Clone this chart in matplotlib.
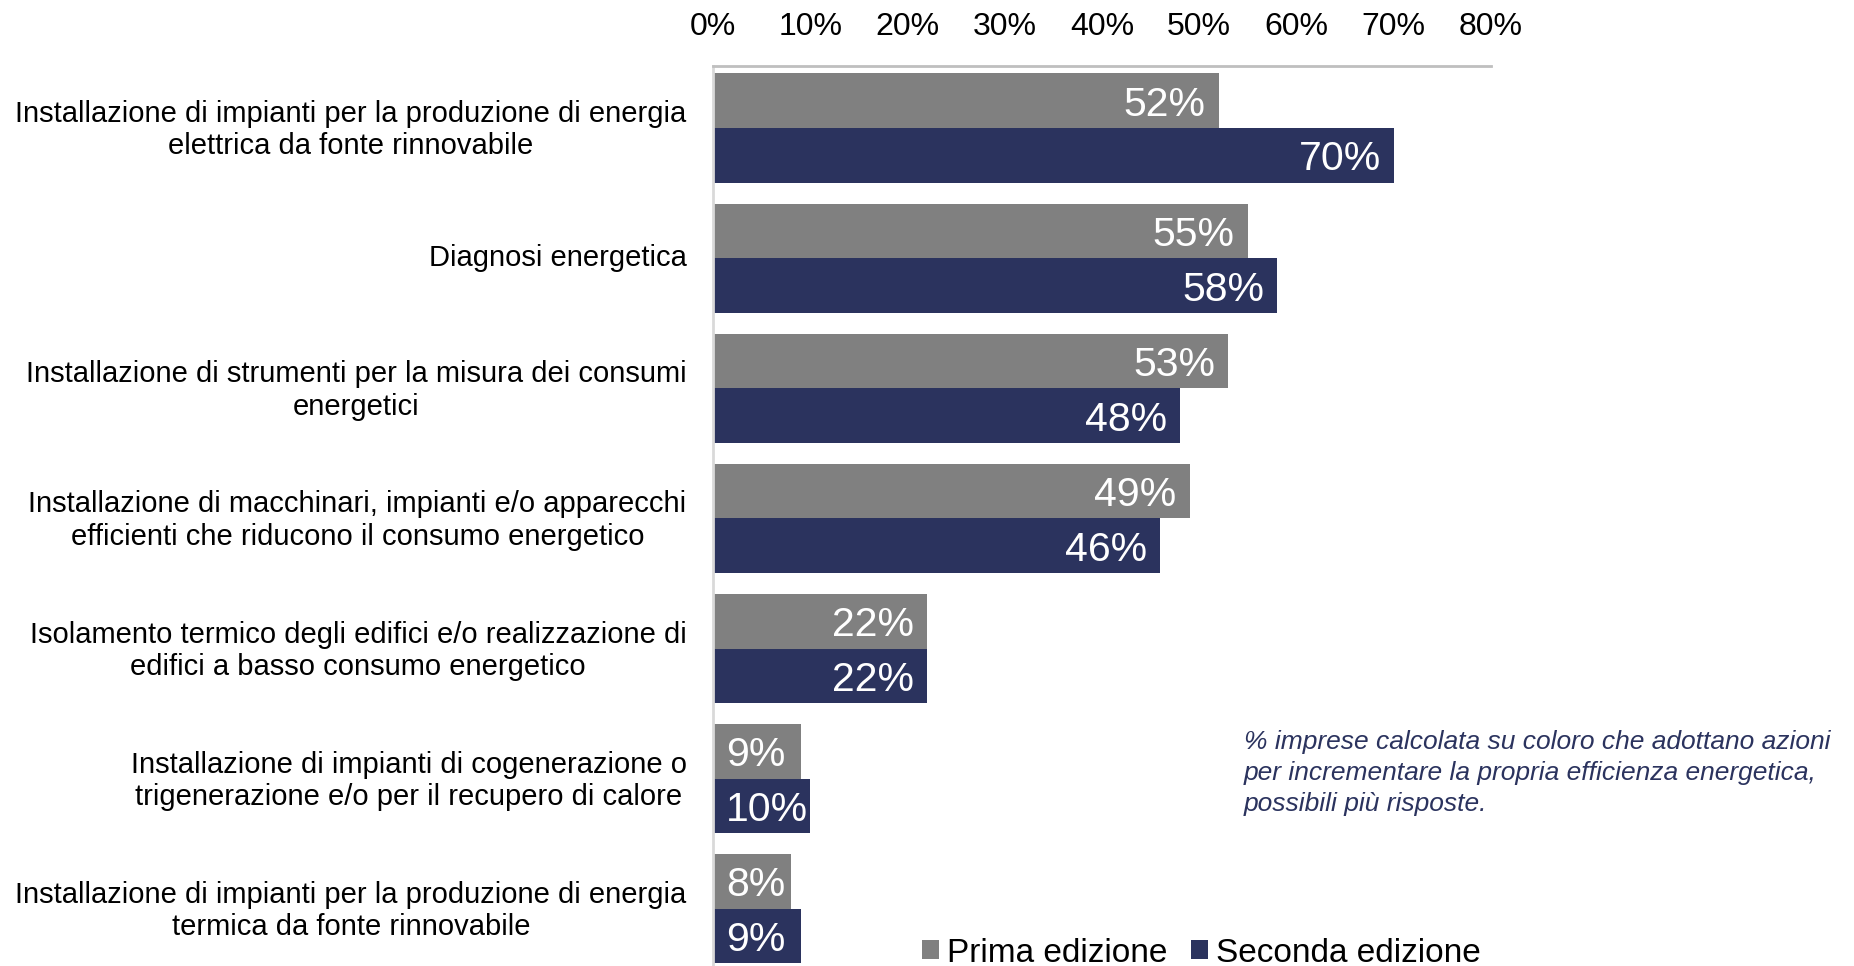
import matplotlib.pyplot as plt
import matplotlib.transforms as mtransforms
import numpy as np

plt.rc('font', family='Liberation Sans')

categories = ["Installazione di impianti per la produzione di energia\nelettrica da fonte rinnovabile",
              "Diagnosi energetica",
              "Installazione di strumenti per la misura dei consumi\nenergetici",
              "Installazione di macchinari, impianti e/o apparecchi\nefficienti che riducono il consumo energetico",
              "Isolamento termico degli edifici e/o realizzazione di\nedifici a basso consumo energetico",
              "Installazione di impianti di cogenerazione o\ntrigenerazione e/o per il recupero di calore",
              "Installazione di impianti per la produzione di energia\ntermica da fonte rinnovabile"]
prima = [52, 55, 53, 49, 22, 9, 8]
seconda = [70, 58, 48, 46, 22, 10, 9]
xticks = [0, 10, 20, 30, 40, 50, 60, 70, 80]
series_names = ["Prima edizione", "Seconda edizione"]

gray = '#808080'
navy = '#2b335e'

fig = plt.figure(figsize=(18.54, 9.66), dpi=100)
ax = fig.add_axes([713/1854, 0.0, (1491-713)/1854, 1-66/966])

y = np.arange(len(categories))
h = 0.42
b1 = ax.barh(y - h/2, prima, height=h, color=gray, label=series_names[0])
b2 = ax.barh(y + h/2, seconda, height=h, color=navy, label=series_names[1])

# value labels, inside end of bar (Excel style)
for bars, vals in ((b1, prima), (b2, seconda)):
    for rect, v in zip(bars, vals):
        yc = rect.get_y() + rect.get_height()/2
        if v <= 10:
            ax.annotate(f"{v}%", (0, yc), xytext=(13, -4), textcoords='offset pixels',
                        ha='left', va='center', color='white', fontsize=29.5)
        else:
            ax.annotate(f"{v}%", (v, yc), xytext=(-13, -4), textcoords='offset pixels',
                        ha='right', va='center', color='white', fontsize=29.5)

ax.set_xlim(0, 80)
ax.set_ylim(6.44, -0.477)
ax.xaxis.tick_top()
ax.set_xticks(xticks)
ax.set_xticklabels([f"{t}%" for t in xticks], fontsize=23)
ax.set_yticks(y)
ax.set_yticklabels(categories, fontsize=21, multialignment='center')
ax.tick_params(axis='both', length=0)
ax.tick_params(axis='x', pad=17)
ax.tick_params(axis='y', pad=19)
shift = mtransforms.ScaledTranslation(0, 3/100, fig.dpi_scale_trans)
for lab in ax.get_yticklabels():
    lab.set_transform(lab.get_transform() + shift)

for s in ['right', 'bottom']:
    ax.spines[s].set_visible(False)
ax.spines['top'].set_color('#bfbfbf')
ax.spines['top'].set_linewidth(2)
ax.spines['left'].set_color('#d9d9d9')
ax.spines['left'].set_linewidth(2)

fig.text(1244/1854, 1-730/966,
         "% imprese calcolata su coloro che adottano azioni\nper incrementare la propria efficienza energetica,\npossibili più risposte.",
         fontsize=19, style='italic', color=navy, va='top', ha='left', linespacing=1.36)

fig.legend(handles=[b1, b2], labels=series_names, loc='center left',
           bbox_to_anchor=(922/1854, 1-953/966), ncol=2, frameon=False,
           fontsize=24, handlelength=0.5, handleheight=0.5, handletextpad=0.25,
           columnspacing=0.72, borderpad=0, borderaxespad=0)

fig.savefig('out.png', dpi=100)
